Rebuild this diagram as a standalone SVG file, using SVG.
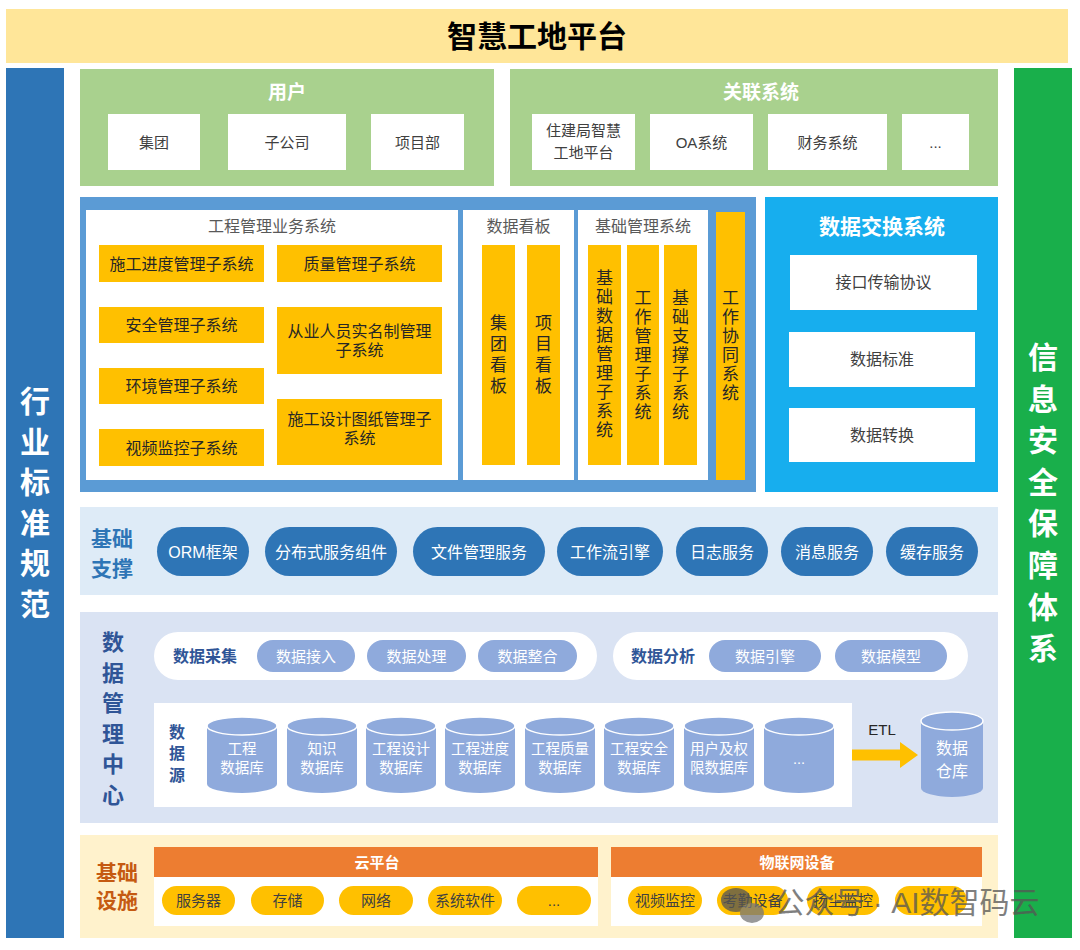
<svg xmlns="http://www.w3.org/2000/svg" width="1080" height="950" viewBox="0 0 1080 950">
<defs>
<style>
text{font-family:"Liberation Sans","Noto Sans CJK SC",sans-serif;text-anchor:middle}
.t15{font-size:15px;fill:#404040}
.t16{font-size:16px;fill:#404040}
.or{fill:#FFC000}
.ot{font-size:16px;fill:#262626}
.vt{font-size:17px;fill:#262626}
.gt{font-size:16px;fill:#595959}
.wh{fill:#FFFFFF}
.pill{fill:#2E75B6}
.pt{font-size:16px;fill:#FFFFFF}
.lp{fill:#8FAADC}
.lpt{font-size:15px;fill:#FFFFFF}
.dk{fill:#2F5597;font-weight:bold}
.cyt{font-size:14.5px;fill:#FFFFFF}
.yp{fill:#FFC000}
.ypt{font-size:15px;fill:#404040}
</style>
<g id="cyl">
<path d="M0,9 A35,9 0 0 1 70,9 V67 A35,9 0 0 1 0,67 Z" fill="#8FAADC"/>
<ellipse cx="35" cy="9" rx="35" ry="9" fill="#8FAADC" stroke="#FFFFFF" stroke-width="1.5"/>
</g>
</defs>

<g id="title">
<rect x="6" y="9" width="1062" height="54" fill="#FFE699"/>
<text x="537" y="47" style="font-size:30px;font-weight:bold;fill:#000">智慧工地平台</text>
</g>

<g id="standards">
<rect x="6" y="68" width="58" height="870" fill="#2E75B6"/>
<text style="font-size:30px;fill:#FFFFFF;font-weight:bold">
<tspan x="35" y="412">行</tspan><tspan x="35" y="452.5">业</tspan><tspan x="35" y="493">标</tspan><tspan x="35" y="533.5">准</tspan><tspan x="35" y="574">规</tspan><tspan x="35" y="614.5">范</tspan>
</text>
</g>

<g id="security">
<rect x="1014" y="68" width="58" height="870" fill="#19AF4B"/>
<text style="font-size:30px;fill:#FFFFFF;font-weight:bold">
<tspan x="1043" y="368">信</tspan><tspan x="1043" y="409.6">息</tspan><tspan x="1043" y="451.2">安</tspan><tspan x="1043" y="492.8">全</tspan><tspan x="1043" y="534.4">保</tspan><tspan x="1043" y="576">障</tspan><tspan x="1043" y="617.6">体</tspan><tspan x="1043" y="659.2">系</tspan>
</text>
</g>

<g id="users">
<rect x="80" y="69" width="414" height="117" fill="#A9D18E"/>
<text x="287" y="99" style="font-size:19px;fill:#FFFFFF;font-weight:bold">用户</text>
<rect x="108" y="114" width="92" height="56" class="wh"/>
<text x="154" y="147.5" class="t15">集团</text>
<rect x="228" y="114" width="118" height="56" class="wh"/>
<text x="287" y="147.5" class="t15">子公司</text>
<rect x="371" y="114" width="93" height="56" class="wh"/>
<text x="417.5" y="147.5" class="t15">项目部</text>
</g>

<g id="related">
<rect x="510" y="69" width="488" height="117" fill="#A9D18E"/>
<text x="761" y="99" style="font-size:19px;fill:#FFFFFF;font-weight:bold">关联系统</text>
<rect x="532" y="114" width="103" height="56" class="wh"/>
<text class="t15"><tspan x="583.5" y="135.5">住建局智慧</tspan><tspan x="583.5" y="157.5">工地平台</tspan></text>
<rect x="650" y="114" width="103" height="56" class="wh"/>
<text x="701.5" y="147.5" class="t15">OA系统</text>
<rect x="768" y="114" width="119" height="56" class="wh"/>
<text x="827.5" y="147.5" class="t15">财务系统</text>
<rect x="902" y="114" width="67" height="56" class="wh"/>
<text x="935.5" y="147.5" class="t15">...</text>
</g>

<g id="business">
<rect x="80" y="197" width="676" height="295" fill="#5B9BD5"/>
<g id="engineering">
<rect x="86" y="210" width="372" height="270" class="wh"/>
<text x="272" y="232" class="gt">工程管理业务系统</text>
<rect x="99" y="245" width="165" height="37" class="or"/>
<text x="181.5" y="269.5" class="ot">施工进度管理子系统</text>
<rect x="99" y="307" width="165" height="36" class="or"/>
<text x="181.5" y="331" class="ot">安全管理子系统</text>
<rect x="99" y="368" width="165" height="36" class="or"/>
<text x="181.5" y="392" class="ot">环境管理子系统</text>
<rect x="99" y="429" width="165" height="37" class="or"/>
<text x="181.5" y="453.5" class="ot">视频监控子系统</text>
<rect x="277" y="245" width="165" height="37" class="or"/>
<text x="359.5" y="269.5" class="ot">质量管理子系统</text>
<rect x="277" y="307" width="165" height="67" class="or"/>
<text class="ot"><tspan x="359.5" y="336.5">从业人员实名制管理</tspan><tspan x="359.5" y="355.5">子系统</tspan></text>
<rect x="277" y="399" width="165" height="66" class="or"/>
<text class="ot"><tspan x="359.5" y="425">施工设计图纸管理子</tspan><tspan x="359.5" y="444">系统</tspan></text>
</g>
<g id="dashboard">
<rect x="463" y="210" width="111" height="270" class="wh"/>
<text x="518.5" y="232" class="gt">数据看板</text>
<rect x="482" y="245" width="33" height="220" class="or"/>
<text class="vt"><tspan x="498.5" y="329">集</tspan><tspan x="498.5" y="350">团</tspan><tspan x="498.5" y="371">看</tspan><tspan x="498.5" y="392">板</tspan></text>
<rect x="527" y="245" width="33" height="220" class="or"/>
<text class="vt"><tspan x="543.5" y="329">项</tspan><tspan x="543.5" y="350">目</tspan><tspan x="543.5" y="371">看</tspan><tspan x="543.5" y="392">板</tspan></text>
</g>
<g id="basemgmt">
<rect x="578" y="210" width="130" height="270" class="wh"/>
<text x="643" y="232" class="gt">基础管理系统</text>
<rect x="588" y="245" width="33" height="220" class="or"/>
<text class="vt"><tspan x="604.5" y="284">基</tspan><tspan x="604.5" y="303">础</tspan><tspan x="604.5" y="322">数</tspan><tspan x="604.5" y="341">据</tspan><tspan x="604.5" y="360">管</tspan><tspan x="604.5" y="379">理</tspan><tspan x="604.5" y="398">子</tspan><tspan x="604.5" y="417">系</tspan><tspan x="604.5" y="436">统</tspan></text>
<rect x="627" y="245" width="32" height="220" class="or"/>
<text class="vt"><tspan x="643" y="304">工</tspan><tspan x="643" y="323">作</tspan><tspan x="643" y="342">管</tspan><tspan x="643" y="361">理</tspan><tspan x="643" y="380">子</tspan><tspan x="643" y="399">系</tspan><tspan x="643" y="418">统</tspan></text>
<rect x="664" y="245" width="33" height="220" class="or"/>
<text class="vt"><tspan x="680.5" y="304">基</tspan><tspan x="680.5" y="323">础</tspan><tspan x="680.5" y="342">支</tspan><tspan x="680.5" y="361">撑</tspan><tspan x="680.5" y="380">子</tspan><tspan x="680.5" y="399">系</tspan><tspan x="680.5" y="418">统</tspan></text>
</g>
<g id="collab">
<rect x="716" y="212" width="29" height="268" class="or"/>
<text class="vt"><tspan x="730.5" y="304">工</tspan><tspan x="730.5" y="323">作</tspan><tspan x="730.5" y="342">协</tspan><tspan x="730.5" y="361">同</tspan><tspan x="730.5" y="380">系</tspan><tspan x="730.5" y="399">统</tspan></text>
</g>
</g>

<g id="exchange">
<rect x="765" y="197" width="233" height="295" fill="#17AEEE"/>
<text x="882" y="233.5" style="font-size:21px;fill:#FFFFFF;font-weight:bold">数据交换系统</text>
<rect x="790" y="255" width="187" height="55" class="wh"/>
<text x="883.5" y="288" class="t16">接口传输协议</text>
<rect x="789" y="332" width="186" height="55" class="wh"/>
<text x="882" y="365" class="t16">数据标准</text>
<rect x="789" y="408" width="186" height="54" class="wh"/>
<text x="882" y="441" class="t16">数据转换</text>
</g>

<g id="support">
<rect x="80" y="507" width="918" height="88" fill="#DEEBF7"/>
<text style="font-size:21px;fill:#2E75B6;font-weight:bold"><tspan x="112" y="545.5">基础</tspan><tspan x="112" y="575.5">支撑</tspan></text>
<rect x="157" y="527" width="92" height="49" rx="24.5" class="pill"/>
<text x="203" y="557.5" class="pt">ORM框架</text>
<rect x="265" y="527" width="132" height="49" rx="24.5" class="pill"/>
<text x="331" y="557.5" class="pt">分布式服务组件</text>
<rect x="413" y="527" width="132" height="49" rx="24.5" class="pill"/>
<text x="479" y="557.5" class="pt">文件管理服务</text>
<rect x="557" y="527" width="106" height="49" rx="24.5" class="pill"/>
<text x="610" y="557.5" class="pt">工作流引擎</text>
<rect x="676" y="527" width="92" height="49" rx="24.5" class="pill"/>
<text x="722" y="557.5" class="pt">日志服务</text>
<rect x="781" y="527" width="92" height="49" rx="24.5" class="pill"/>
<text x="827" y="557.5" class="pt">消息服务</text>
<rect x="886" y="527" width="92" height="49" rx="24.5" class="pill"/>
<text x="932" y="557.5" class="pt">缓存服务</text>
</g>

<g id="datacenter">
<rect x="80" y="612" width="918" height="211" fill="#DAE3F3"/>
<text class="dk" style="font-size:22px"><tspan x="113" y="650">数</tspan><tspan x="113" y="680.5">据</tspan><tspan x="113" y="711">管</tspan><tspan x="113" y="741.5">理</tspan><tspan x="113" y="772">中</tspan><tspan x="113" y="802.5">心</tspan></text>
<g id="collect">
<rect x="154" y="632" width="443" height="48" rx="24" class="wh"/>
<text x="205" y="662" class="dk" style="font-size:16px">数据采集</text>
<rect x="257" y="640" width="98" height="32" rx="16" class="lp"/>
<text x="306" y="661.5" class="lpt">数据接入</text>
<rect x="367" y="640" width="99" height="32" rx="16" class="lp"/>
<text x="416.5" y="661.5" class="lpt">数据处理</text>
<rect x="478" y="640" width="99" height="32" rx="16" class="lp"/>
<text x="527.5" y="661.5" class="lpt">数据整合</text>
</g>
<g id="analysis">
<rect x="613" y="632" width="355" height="48" rx="24" class="wh"/>
<text x="663" y="662" class="dk" style="font-size:16px">数据分析</text>
<rect x="709" y="640" width="112" height="32" rx="16" class="lp"/>
<text x="765" y="661.5" class="lpt">数据引擎</text>
<rect x="835" y="640" width="112" height="32" rx="16" class="lp"/>
<text x="891" y="661.5" class="lpt">数据模型</text>
</g>
<g id="sources">
<rect x="154" y="703" width="698" height="104" class="wh"/>
<text class="dk" style="font-size:16px"><tspan x="177" y="738">数</tspan><tspan x="177" y="759">据</tspan><tspan x="177" y="781">源</tspan></text>
<use href="#cyl" x="207" y="717"/>
<text class="cyt"><tspan x="242" y="754">工程</tspan><tspan x="242" y="773">数据库</tspan></text>
<use href="#cyl" x="287" y="717"/>
<text class="cyt"><tspan x="322" y="754">知识</tspan><tspan x="322" y="773">数据库</tspan></text>
<use href="#cyl" x="366" y="717"/>
<text class="cyt"><tspan x="401" y="754">工程设计</tspan><tspan x="401" y="773">数据库</tspan></text>
<use href="#cyl" x="445" y="717"/>
<text class="cyt"><tspan x="480" y="754">工程进度</tspan><tspan x="480" y="773">数据库</tspan></text>
<use href="#cyl" x="525" y="717"/>
<text class="cyt"><tspan x="560" y="754">工程质量</tspan><tspan x="560" y="773">数据库</tspan></text>
<use href="#cyl" x="604" y="717"/>
<text class="cyt"><tspan x="639" y="754">工程安全</tspan><tspan x="639" y="773">数据库</tspan></text>
<use href="#cyl" x="684" y="717"/>
<text class="cyt"><tspan x="719" y="754">用户及权</tspan><tspan x="719" y="773">限数据库</tspan></text>
<use href="#cyl" x="764" y="717"/>
<text x="799" y="764" class="cyt">...</text>
</g>
<g id="warehouse">
<path d="M921,721 A31,9 0 0 1 983,721 V788 A31,9 0 0 1 921,788 Z" fill="#8FAADC"/>
<ellipse cx="952" cy="721" rx="31" ry="9" fill="#8FAADC" stroke="#FFFFFF" stroke-width="1.5"/>
<text style="font-size:16px;fill:#FFFFFF"><tspan x="952" y="754">数据</tspan><tspan x="952" y="777">仓库</tspan></text>
</g>
</g>

<g id="connectors">
<polygon points="852,749.5 900,749.5 900,742 918,755 900,768 900,760.5 852,760.5" fill="#FFC000"/>
<text x="882" y="735" style="font-size:15px;fill:#262626">ETL</text>
</g>

<g id="infra">
<rect x="80" y="835" width="918" height="103" fill="#FFF2CC"/>
<text style="font-size:21px;fill:#C55A11;font-weight:bold"><tspan x="117" y="879.5">基础</tspan><tspan x="117" y="907.5">设施</tspan></text>
<g id="cloud">
<rect x="154" y="877" width="444" height="49" class="wh"/>
<rect x="154" y="847" width="444" height="30" fill="#ED7D31"/>
<text x="377" y="867.5" style="font-size:15px;fill:#FFFFFF;font-weight:bold">云平台</text>
<rect x="162" y="886" width="73" height="29" rx="14.5" class="yp"/>
<text x="198.5" y="905.5" class="ypt">服务器</text>
<rect x="251" y="886" width="73" height="29" rx="14.5" class="yp"/>
<text x="287.5" y="905.5" class="ypt">存储</text>
<rect x="339" y="886" width="74" height="29" rx="14.5" class="yp"/>
<text x="376" y="905.5" class="ypt">网络</text>
<rect x="428" y="886" width="74" height="29" rx="14.5" class="yp"/>
<text x="465" y="905.5" class="ypt">系统软件</text>
<rect x="517" y="886" width="74" height="29" rx="14.5" class="yp"/>
<text x="554" y="905.5" class="ypt">...</text>
</g>
<g id="iot">
<rect x="611" y="877" width="371" height="49" class="wh"/>
<rect x="611" y="847" width="371" height="30" fill="#ED7D31"/>
<text x="797" y="867.5" style="font-size:15px;fill:#FFFFFF;font-weight:bold">物联网设备</text>
<rect x="628" y="886" width="74" height="29" rx="14.5" class="yp"/>
<text x="665" y="905.5" class="ypt">视频监控</text>
<rect x="717" y="886" width="71" height="29" rx="14.5" class="yp"/>
<text x="752.5" y="905.5" class="ypt">考勤设备</text>
<rect x="807" y="886" width="72" height="29" rx="14.5" class="yp"/>
<text x="843" y="905.5" class="ypt">扬尘监控</text>
<rect x="895" y="886" width="72" height="29" rx="14.5" class="yp"/>
</g>
</g>

<g id="watermark" opacity="0.75">
<ellipse cx="736" cy="900" rx="15" ry="12" fill="#555555"/>
<ellipse cx="752" cy="913" rx="12" ry="10" fill="#777777"/>
<text x="907" y="913" style="font-size:30px;fill:#555555">公众号 · AI数智码云</text>
</g>
</svg>
